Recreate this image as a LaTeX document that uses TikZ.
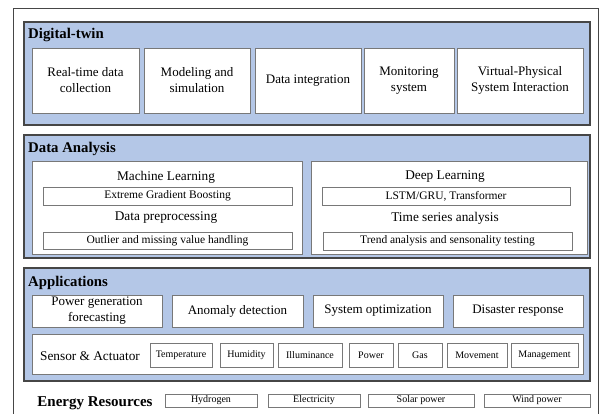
\documentclass[tikz,border=0pt]{standalone}
\usepackage{fontspec}
\setmainfont{Liberation Serif}
\usetikzlibrary{positioning}

\definecolor{panelblue}{RGB}{180,199,231}
\definecolor{frame}{RGB}{70,70,70}
\definecolor{edge}{RGB}{120,120,120}

\tikzset{
  panel/.style={draw=frame,line width=1.2pt,fill=panelblue,inner sep=0pt,outer sep=0pt},
  paneltitle/.style={anchor=west,font=\fontsize{14.8}{16}\selectfont\bfseries,inner sep=0pt},
  bigbox/.style={draw=edge,line width=0.8pt,fill=white,inner sep=0pt,outer sep=0pt,
    align=center,font=\fontsize{13}{16}\selectfont},
  subbox/.style={draw=edge,line width=0.7pt,fill=white,inner sep=0pt,outer sep=0pt,
    font=\fontsize{11.5}{13}\selectfont},
  tinybox/.style={draw=edge,line width=0.7pt,fill=white,inner sep=0pt,outer sep=0pt,
    font=\fontsize{10}{11}\selectfont},
  label/.style={inner sep=0pt,font=\fontsize{13.3}{15}\selectfont},
}

\begin{document}
\begin{tikzpicture}[x=1pt,y=-1pt]
\useasboundingbox (0,0) rectangle (600,414);
% outer frame, open at the bottom
\draw[frame,line width=0.8pt] (13,416) -- (13,8) -- (598,8) -- (598,416);

% digital twin layer
\node[panel,minimum width=566,minimum height=103] (twin) at (307,73.5) {};
\node[paneltitle] (twintitle) at (28,35) {Digital-twin};
\node[bigbox,minimum width=107,minimum height=65] (collect) at (85.5,80.5) {Real-time data\\collection};
\node[bigbox,minimum width=106,minimum height=65] (model) at (197,80.5) {Modeling and\\simulation};
\node[bigbox,minimum width=106,minimum height=65] (integr) at (308,80.5) {Data integration};
\node[bigbox,minimum width=90,minimum height=65] (monit) at (409,80.5) {Monitoring\\system};
\node[bigbox,minimum width=126,minimum height=65] (vpsi) at (520,80.5) {Virtual-Physical\\System Interaction};

% data analysis layer
\node[panel,minimum width=566,minimum height=123] (analysis) at (307,196.5) {};
\node[paneltitle] (analysistitle) at (28,149) {Data Analysis};
\node[bigbox,minimum width=270,minimum height=93] (mlbox) at (167,207.5) {};
\node[bigbox,minimum width=276,minimum height=93] (dlbox) at (449,207.5) {};
\node[label] (ml) at (166,177) {Machine Learning};
\node[subbox,minimum width=249,minimum height=18] (xgb) at (167.5,196) {Extreme Gradient Boosting};
\node[label] (prep) at (166,218) {Data preprocessing};
\node[subbox,minimum width=249,minimum height=17] (outlier) at (167.5,240.5) {Outlier and missing value handling};
\node[label] (dl) at (445,177) {Deep Learning};
\node[subbox,minimum width=248,minimum height=18] (lstm) at (446,196) {LSTM/GRU, Transformer};
\node[label] (tsa) at (445,218) {Time series analysis};
\node[subbox,minimum width=249,minimum height=18] (trend) at (447.5,241) {Trend analysis and sensonality testing};

% applications layer
\node[panel,minimum width=566,minimum height=113] (apps) at (307,324.5) {};
\node[paneltitle] (appstitle) at (28,283) {Applications};
\node[bigbox,minimum width=130,minimum height=32] (forecast) at (97,311) {Power generation\\forecasting};
\node[bigbox,minimum width=131,minimum height=32] (anomaly) at (237.5,311) {Anomaly detection};
\node[bigbox,minimum width=130,minimum height=32] (optim) at (378,311) {System optimization};
\node[bigbox,minimum width=130,minimum height=32] (disaster) at (518,311) {Disaster response};
\node[bigbox,minimum width=551,minimum height=40] (sensors) at (307.5,354) {};
\node[label] (sa) at (90,356) {Sensor \& Actuator};
\node[tinybox,minimum width=62,minimum height=24] (temp) at (181,355) {Temperature};
\node[tinybox,minimum width=53,minimum height=24] (humid) at (246.5,355) {Humidity};
\node[tinybox,minimum width=64,minimum height=24] (illum) at (310,355) {Illuminance};
\node[tinybox,minimum width=44,minimum height=24] (power) at (371,355) {Power};
\node[tinybox,minimum width=44,minimum height=24] (gas) at (420,355) {Gas};
\node[tinybox,minimum width=60,minimum height=24] (move) at (477,355) {Movement};
\node[tinybox,minimum width=67,minimum height=24] (manage) at (544.5,355) {Management};

% energy resources
\node[inner sep=0pt,font=\fontsize{15}{17}\selectfont\bfseries] (energy) at (95,403) {Energy Resources};
\node[tinybox,minimum width=92,minimum height=13] (hydro) at (211,400.5) {Hydrogen};
\node[tinybox,minimum width=92,minimum height=13] (elec) at (314,400.5) {Electricity};
\node[tinybox,minimum width=106,minimum height=13] (solar) at (421,400.5) {Solar power};
\node[tinybox,minimum width=106,minimum height=13] (wind) at (537,400.5) {Wind power};
\end{tikzpicture}
\end{document}
